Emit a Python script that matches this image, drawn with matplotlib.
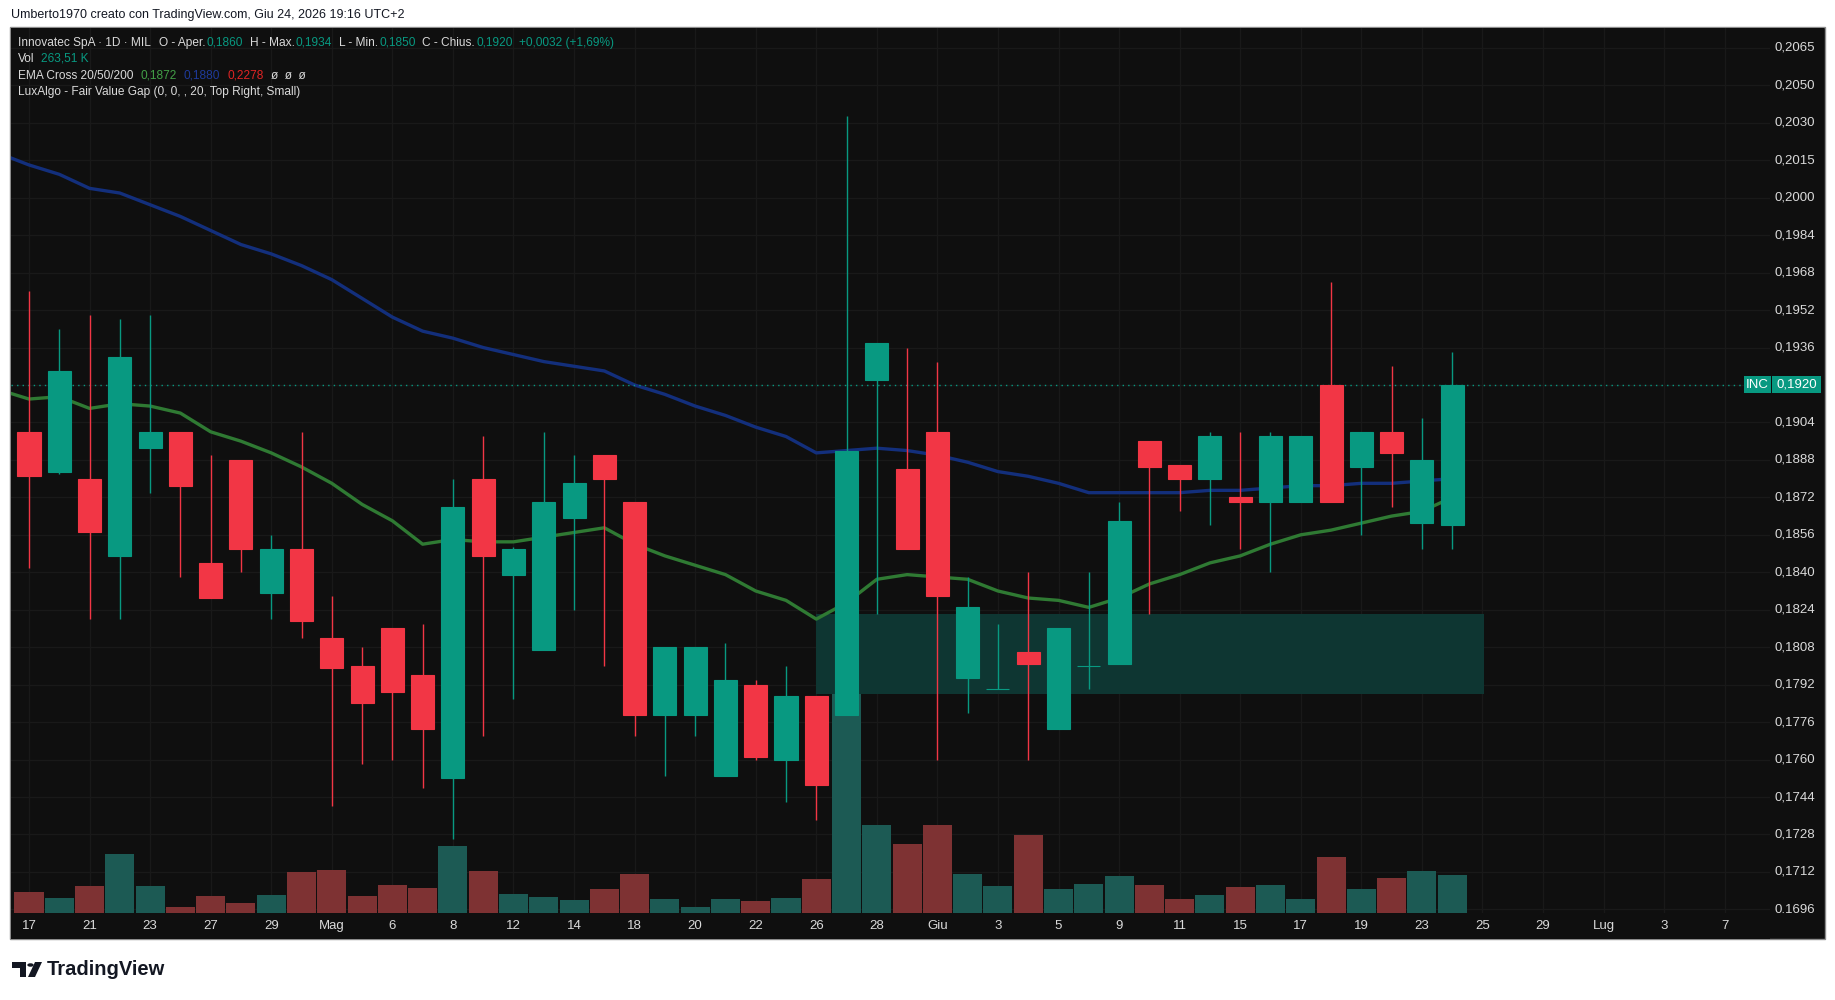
import numpy as np
import matplotlib
matplotlib.use("Agg")
import matplotlib.pyplot as plt
from matplotlib import font_manager
from matplotlib.patches import Rectangle, Polygon, Circle
from matplotlib.lines import Line2D

plt.rcParams['font.family'] = ['Liberation Sans', 'DejaVu Sans']

# daily candles, Innovatec SpA, 17 Apr -> 24 Jun 2026
opens = [0.1900, 0.1883, 0.1880, 0.1847, 0.1893, 0.1900, 0.1844, 0.1888, 0.1831, 0.1850,
         0.1812, 0.1800, 0.1816, 0.1796, 0.1752, 0.1880, 0.1839, 0.1807, 0.1863, 0.1890,
         0.1870, 0.1779, 0.1779, 0.1753, 0.1792, 0.1760, 0.1787, 0.1779, 0.1922, 0.1884,
         0.1900, 0.1795, 0.1790, 0.1806, 0.1773, 0.1800, 0.1801, 0.1896, 0.1886, 0.1880,
         0.1872, 0.1870, 0.1870, 0.1920, 0.1885, 0.1900, 0.1861, 0.1860]
highs = [0.1960, 0.1944, 0.1950, 0.1948, 0.1950, 0.1900, 0.1890, 0.1888, 0.1856, 0.1900,
         0.1830, 0.1808, 0.1816, 0.1818, 0.1880, 0.1898, 0.1851, 0.1900, 0.1890, 0.1890,
         0.1870, 0.1808, 0.1808, 0.1810, 0.1794, 0.1800, 0.1787, 0.2035, 0.1938, 0.1936,
         0.1930, 0.1838, 0.1818, 0.1840, 0.1816, 0.1840, 0.1870, 0.1896, 0.1886, 0.1900,
         0.1900, 0.1900, 0.1898, 0.1964, 0.1900, 0.1928, 0.1906, 0.1934]
lows = [0.1842, 0.1882, 0.1820, 0.1820, 0.1874, 0.1838, 0.1829, 0.1840, 0.1820, 0.1812,
        0.1740, 0.1758, 0.1760, 0.1748, 0.1726, 0.1770, 0.1786, 0.1807, 0.1824, 0.1800,
        0.1770, 0.1753, 0.1770, 0.1753, 0.1760, 0.1742, 0.1734, 0.1779, 0.1822, 0.1850,
        0.1760, 0.1780, 0.1790, 0.1760, 0.1773, 0.1790, 0.1801, 0.1822, 0.1866, 0.1860,
        0.1850, 0.1840, 0.1870, 0.1870, 0.1856, 0.1868, 0.1850, 0.1850]
closes = [0.1881, 0.1926, 0.1857, 0.1932, 0.1900, 0.1877, 0.1829, 0.1850, 0.1850, 0.1819,
          0.1799, 0.1784, 0.1789, 0.1773, 0.1868, 0.1847, 0.1850, 0.1870, 0.1878, 0.1880,
          0.1779, 0.1808, 0.1808, 0.1794, 0.1761, 0.1787, 0.1749, 0.1892, 0.1938, 0.1850,
          0.1830, 0.1825, 0.1790, 0.1801, 0.1816, 0.1800, 0.1862, 0.1885, 0.1880, 0.1898,
          0.1870, 0.1898, 0.1898, 0.1870, 0.1900, 0.1891, 0.1888, 0.1920]
volumes_k = [145, 103, 187, 410, 187, 42, 117, 67, 124, 283, 297, 117, 194, 173, 463, 290,
             131, 110, 88, 166, 269, 95, 42, 95, 81, 104, 238, 1533, 613, 479, 613, 271,
             189, 542, 167, 200, 256, 197, 96, 126, 182, 197, 96, 390, 167, 245, 293, 263.51]

# EMA values, first entry is the bar just left of the visible range
ema20 = [0.1918, 0.1914, 0.1915, 0.1910, 0.1912, 0.1911, 0.1908, 0.1900, 0.1896, 0.1891,
         0.1885, 0.1878, 0.1869, 0.1862, 0.1852, 0.1854, 0.1853, 0.1853, 0.1855, 0.1857,
         0.1859, 0.1852, 0.1847, 0.1843, 0.1839, 0.1832, 0.1828, 0.1820, 0.1827, 0.1837,
         0.1839, 0.1838, 0.1837, 0.1832, 0.1829, 0.1828, 0.1825, 0.1829, 0.1835, 0.1839,
         0.1844, 0.1847, 0.1852, 0.1856, 0.1858, 0.1861, 0.1864, 0.1866, 0.1872]
ema50 = [0.2019, 0.2014, 0.2010, 0.2004, 0.2002, 0.1997, 0.1992, 0.1986, 0.1980, 0.1976,
         0.1971, 0.1965, 0.1957, 0.1949, 0.1943, 0.1940, 0.1936, 0.1933, 0.1930, 0.1928,
         0.1926, 0.1920, 0.1916, 0.1911, 0.1907, 0.1902, 0.1898, 0.1891, 0.1892, 0.1893,
         0.1892, 0.1890, 0.1887, 0.1883, 0.1881, 0.1878, 0.1874, 0.1874, 0.1874, 0.1874,
         0.1875, 0.1875, 0.1876, 0.1877, 0.1877, 0.1878, 0.1878, 0.1879, 0.1880]

# fair value gap box (bar index start/end, price bottom/top)
fvg_start, fvg_end = 26, 48.05
fvg_bottom, fvg_top = 0.1788, 0.1822
last_price = 0.1920

date_labels = ['17', '21', '23', '27', '29', 'Mag', '6', '8', '12', '14', '18', '20', '22',
               '26', '28', 'Giu', '3', '5', '9', '11', '15', '17', '19', '23', '25', '29',
               'Lug', '3', '7']
date_pos = np.arange(0, 2 * len(date_labels), 2)

price_ticks = 0.1696 + 0.0016 * np.arange(24)
price_labels = ['0,1696', '0,1712', '0,1728', '0,1744', '0,1760', '0,1776', '0,1792',
                '0,1808', '0,1824', '0,1840', '0,1856', '0,1872', '0,1888', '0,1904',
                '0,1920', '0,1936', '0,1952', '0,1968', '0,1984', '0,2000', '0,2015',
                '0,2030', '0,2050', '0,2065']

# colours
BG = '#0f0f0f'
GRID = '#191919'
UP = '#089981'
DOWN = '#f23645'
VUP = '#1c5a54'
VDOWN = '#7e3233'
TXT = '#dadada'

# the legend uses a narrow face when one is installed
installed = {f.name for f in font_manager.fontManager.ttflist}
if 'Liberation Sans Narrow' in installed:
    LEG_FONT, LEG_SIZE = ['Liberation Sans Narrow', 'DejaVu Sans'], 10.2
else:
    LEG_FONT, LEG_SIZE = ['Liberation Sans', 'DejaVu Sans'], 8.6

W, H = 1835, 1000
fig = plt.figure(figsize=(W / 100, H / 100), dpi=100)
fig.patch.set_facecolor('white')


def fx(px):
    return px / W


def fy(py):
    return 1 - py / H


# chart frame
fig.add_artist(Rectangle((fx(10), fy(939)), fx(1825) - fx(10), fy(27) - fy(939),
                         transform=fig.transFigure, facecolor=BG, edgecolor='#8c8c8c',
                         lw=1, zorder=-5))

xlim = ((11 - 29) / 30.28, (1770 - 29) / 30.28)
ylim = (0.169445, 0.20725)
rect = [fx(11), fy(913), fx(1770) - fx(11), fy(28) - fy(913)]

# volume layer (bottom)
ax_v = fig.add_axes(rect)
ax_v.set_facecolor(BG)
ax = fig.add_axes(rect)
ax.patch.set_alpha(0)

x = np.arange(len(opens))
o = np.array(opens)
c = np.array(closes)
up = c >= o
ax_v.bar(x, volumes_k, width=0.96, color=np.where(up, VUP, VDOWN), lw=0, zorder=2)
ax_v.set_xlim(xlim)
ax_v.set_ylim(0, 885 * 6.93)
for p in price_ticks:
    ax_v.add_line(Line2D([xlim[0], xlim[1]], [p, p], color=GRID, lw=1,
                         transform=ax.transData, zorder=1))
for d in date_pos:
    ax_v.axvline(d, color=GRID, lw=1, zorder=1)

# candles
cols = np.where(up, UP, DOWN)
ax.vlines(x, lows, highs, colors=cols, lw=1, zorder=4)
ax.bar(x, np.abs(c - o), bottom=np.minimum(o, c), width=0.76, color=cols,
       edgecolor=cols, lw=0.8, zorder=5)

# indicators
xe = np.arange(-1, len(opens))
ax.plot(xe, ema50, color='#132f7c', lw=2.4, zorder=3, solid_capstyle='round')
ax.plot(xe, ema20, color='#2f7a33', lw=2.4, zorder=3, solid_capstyle='round')
ax.add_patch(Rectangle((fvg_start, fvg_bottom), fvg_end - fvg_start, fvg_top - fvg_bottom,
                       facecolor='#0e3632', edgecolor='none', zorder=2))
ax.hlines(last_price, xlim[0], (1744 - 29) / 30.28, colors=UP, linestyles=(0, (1, 3)),
          lw=1, zorder=3)

ax.set_xlim(xlim)
ax.set_ylim(ylim)
for a in (ax, ax_v):
    a.set_xticks([])
    a.set_yticks([])
    for s in a.spines.values():
        s.set_visible(False)

# price scale
ax_p = fig.add_axes([fx(1770), fy(913), fx(1824) - fx(1770), fy(28) - fy(913)])
ax_p.set_facecolor(BG)
ax_p.set_xlim(0, 1)
ax_p.set_ylim(ylim)
ax_p.set_xticks([])
ax_p.set_yticks([])
for s in ax_p.spines.values():
    s.set_visible(False)
for p, lab in zip(price_ticks, price_labels):
    ax_p.text(0.84, p, lab, ha='right', va='center', color=TXT, fontsize=9.5, clip_on=True)

# date scale
ax_d = fig.add_axes([fx(11), fy(939), fx(1770) - fx(11), fy(913) - fy(939)])
ax_d.set_facecolor(BG)
ax_d.set_xlim(xlim)
ax_d.set_ylim(0, 1)
ax_d.set_xticks([])
ax_d.set_yticks([])
for s in ax_d.spines.values():
    s.set_visible(False)
for d, lab in zip(date_pos, date_labels):
    ax_d.text(d, 0.5, lab, ha='center', va='center', color=TXT, fontsize=9.5)

# last price tags
fig.canvas.draw()
renderer = fig.canvas.get_renderer()
yc = fig.transFigure.inverted().transform(ax.transData.transform((0, last_price)))[1]
hh = 8.5 / H
fig.add_artist(Rectangle((fx(1744), yc - hh), fx(1771) - fx(1744), 2 * hh,
                         transform=fig.transFigure, facecolor=UP, edgecolor='none'))
fig.add_artist(Rectangle((fx(1772), yc - hh), fx(1821) - fx(1772), 2 * hh,
                         transform=fig.transFigure, facecolor=UP, edgecolor='none'))
fig.text(fx(1757.5), yc, 'INC', color='white', fontsize=9.5, ha='center', va='center')
fig.text(fx(1796.5), yc, '0,1920', color='white', fontsize=9.5, ha='center', va='center')

# legend lines in the top-left: (gap before in px, text, colour)
legend = [
    (42.7, [(0, 'Innovatec SpA · 1D · MIL', TXT), (8, 'O - Aper.', TXT), (1, '0,1860', UP),
            (7, 'H - Max.', TXT), (1, '0,1934', UP), (7, 'L - Min.', TXT), (1, '0,1850', UP),
            (7, 'C - Chius.', TXT), (1, '0,1920', UP), (7, '+0,0032 (+1,69%)', UP)]),
    (59, [(0, 'Vol', TXT), (6, '263,51 K', UP)]),
    (76, [(0, 'EMA Cross 20/50/200', TXT), (7, '0,1872', '#43a047'), (7, '0,1880', '#1e3a9a'),
          (7, '0,2278', '#e02424'), (7, 'ø  ø  ø', TXT)]),
    (92.3, [(0, 'LuxAlgo - Fair Value Gap (0, 0, , 20, Top Right, Small)', TXT)]),
]
for yy, parts in legend:
    xx = 18
    for gap, txt, col in parts:
        xx += gap
        t = fig.text(fx(xx), fy(yy), txt, color=col, fontsize=LEG_SIZE, family=LEG_FONT,
                     ha='left', va='center')
        xx += t.get_window_extent(renderer).width

# header and footer
fig.text(fx(11), fy(15), 'Umberto1970 creato con TradingView.com, Giu 24, 2026 19:16 UTC+2',
         color='#131722', fontsize=9, ha='left', va='center')


def P(px, py):
    return (fx(px), fy(py))


fig.add_artist(Polygon([P(12, 962), P(26, 962), P(26, 977), P(20, 977), P(20, 968), P(12, 968)],
                       closed=True, transform=fig.transFigure, facecolor='#131722',
                       edgecolor='none'))
fig.add_artist(Circle(P(30.5, 965), 3.2 / W, transform=fig.transFigure, facecolor='#131722',
                      edgecolor='none'))
fig.add_artist(Polygon([P(28, 977), P(35, 962), P(42, 962), P(35, 977)], closed=True,
                       transform=fig.transFigure, facecolor='#131722', edgecolor='none'))
fig.text(fx(47), fy(969.5), 'TradingView', color='#131722', fontsize=14.5,
         fontweight='bold', ha='left', va='center')

fig.savefig('out.png', dpi=100, facecolor='white')
